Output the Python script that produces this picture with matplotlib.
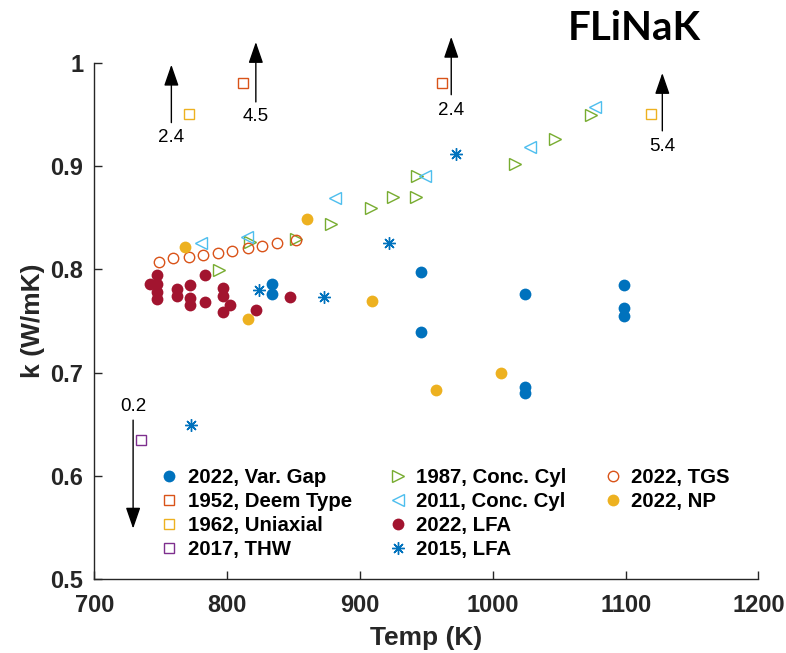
import matplotlib.pyplot as plt
from matplotlib.lines import Line2D

# thermal conductivity of FLiNaK
vg_T = [834, 834, 946, 946, 1024, 1024, 1024, 1099, 1099, 1099]
vg_k = [0.786, 0.776, 0.797, 0.739, 0.776, 0.686, 0.680, 0.785, 0.763, 0.755]

deem_T = [812, 962]
deem_k = [0.980, 0.980]

uni_T = [771, 1119]
uni_k = [0.950, 0.950]

thw_T = [735]
thw_k = [0.635]

cc87_T = [794, 817, 852, 878, 908, 925, 942, 943, 1017, 1047, 1074]
cc87_k = [0.799, 0.826, 0.829, 0.844, 0.859, 0.870, 0.870, 0.890, 0.902, 0.926, 0.949]

cc11_T = [780, 815, 881, 949, 1028, 1077]
cc11_k = [0.825, 0.831, 0.869, 0.890, 0.918, 0.957]

lfa22_T = [742, 747, 747, 747, 747, 762, 762, 772, 772, 772, 783, 783, 797, 797, 797, 802, 822, 847]
lfa22_k = [0.786, 0.794, 0.786, 0.778, 0.771, 0.781, 0.774, 0.785, 0.772, 0.765,
           0.794, 0.768, 0.782, 0.774, 0.759, 0.765, 0.761, 0.773]

lfa15_T = [773, 824, 873, 922, 972]
lfa15_k = [0.649, 0.780, 0.773, 0.825, 0.912]

tgs_T = [748.5, 759.5, 771, 782, 793, 804, 815.5, 826.5, 837.5, 851.5]
tgs_k = [0.807, 0.811, 0.812, 0.814, 0.816, 0.818, 0.821, 0.823, 0.825, 0.828]

np_T = [768, 816, 860, 909, 957, 1006]
np_k = [0.822, 0.752, 0.849, 0.769, 0.683, 0.700]

# off-scale values, shown as arrows with the actual k
arrow_T = [758, 821.6, 968.7, 1127.6, 729.2]
arrow_from = [0.942, 0.962, 0.969, 0.934, 0.654]
arrow_to = [0.998, 1.020, 1.025, 0.990, 0.549]
arrow_text = ['2.4', '4.5', '2.4', '5.4', '0.2']
arrow_text_k = [0.928, 0.948, 0.954, 0.919, 0.667]

blue = '#0072BD'
orange = '#D95319'
yellow = '#EDB120'
purple = '#7E2F8E'
green = '#77AC30'
cyan = '#4DBEEE'
red = '#A2142F'

plt.rcParams['font.family'] = ['Liberation Sans', 'DejaVu Sans']
plt.rcParams['font.weight'] = 'bold'

fig = plt.figure(figsize=(7.86, 6.53), dpi=100)
ax = fig.add_axes([0.120, 0.113, 0.845, 0.791])

ax.plot(vg_T, vg_k, 'o', ms=8.5, color=blue, mec='none', label='2022, Var. Gap')
ax.plot(deem_T, deem_k, 's', ms=7.5, mfc='none', mec=orange, mew=1, label='1952, Deem Type')
ax.plot(uni_T, uni_k, 's', ms=7.5, mfc='none', mec=yellow, mew=1, label='1962, Uniaxial')
ax.plot(thw_T, thw_k, 's', ms=7.5, mfc='none', mec=purple, mew=1, label='2017, THW')
ax.plot(cc87_T, cc87_k, '>', ms=9, mfc='none', mec=green, mew=1, label='1987, Conc. Cyl')
ax.plot(cc11_T, cc11_k, '<', ms=9, mfc='none', mec=cyan, mew=1, label='2011, Conc. Cyl')
ax.plot(lfa22_T, lfa22_k, 'o', ms=8.5, color=red, mec='none', label='2022, LFA')
ax.plot(lfa15_T, lfa15_k, marker=(8, 2, 0), ls='none', ms=9, color=blue, mew=1, label='2015, LFA')
ax.plot(tgs_T, tgs_k, 'o', ms=7.5, mfc='none', mec=orange, mew=1, label='2022, TGS')
ax.plot(np_T, np_k, 'o', ms=8.5, color=yellow, mec='none', label='2022, NP')

for x, y0, y1, s, ty in zip(arrow_T, arrow_from, arrow_to, arrow_text, arrow_text_k):
    ax.annotate('', xy=(x, y1), xytext=(x, y0), annotation_clip=False,
                arrowprops=dict(arrowstyle='-|>,head_length=1.3,head_width=0.45',
                                color='black', lw=1.0, shrinkA=0, shrinkB=0,
                                mutation_scale=10))
    ax.text(x, ty, s, ha='center', va='center', fontsize=13.5,
            fontweight='normal', color='black', clip_on=False)

ax.set_xlim(700, 1200)
ax.set_ylim(0.5, 1.0)
ax.set_xticks([700, 800, 900, 1000, 1100, 1200])
ax.set_yticks([0.5, 0.6, 0.7, 0.8, 0.9, 1.0])
ax.set_yticklabels(['0.5', '0.6', '0.7', '0.8', '0.9', '1'])
ax.spines['top'].set_visible(False)
ax.spines['right'].set_visible(False)
for sp in ['left', 'bottom']:
    ax.spines[sp].set_color('#262626')
    ax.spines[sp].set_linewidth(1.0)
ax.tick_params(direction='in', length=6, width=1, colors='#262626', labelsize=17)
ax.tick_params(axis='x', pad=11)
ax.tick_params(axis='y', pad=8)
ax.set_xlabel('Temp (K)', fontsize=19, fontweight='bold', color='#262626', labelpad=6)
ax.set_ylabel('k (W/mK)', fontsize=19, fontweight='bold', color='#262626', labelpad=4)

handles, labels = ax.get_legend_handles_labels()
blank = Line2D([], [], ls='none', marker='none')
handles = handles + [blank, blank]
labels = labels + ['', '']
ax.legend(handles, labels, ncol=3, loc='upper left', bbox_to_anchor=(0.07, 0.250),
          frameon=False, fontsize=14.7, handlelength=1.0, handletextpad=0.4,
          columnspacing=1.75, labelspacing=0.24)

fig.text(0.807, 0.9556, 'FLiNaK', fontsize=29, fontweight='bold',
         family=['Lato', 'DejaVu Sans'], ha='center', va='center')

fig.savefig('out.png', dpi=100)
